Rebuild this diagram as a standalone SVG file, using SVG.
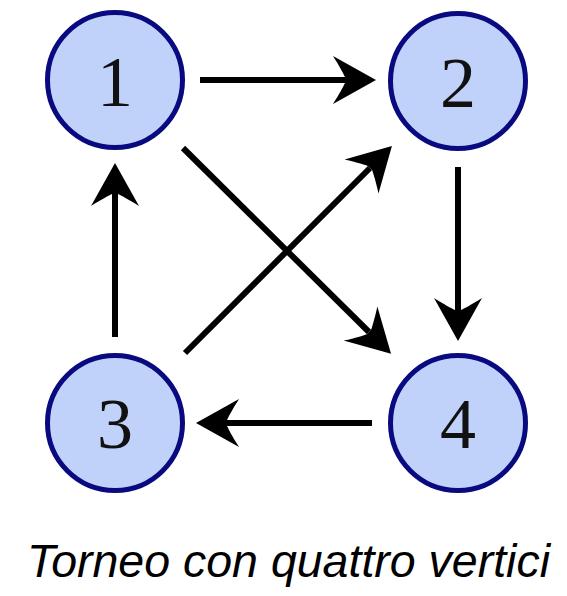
<svg xmlns="http://www.w3.org/2000/svg" width="567" height="596" viewBox="0 0 567 596">
<style>
.node circle{fill:#c0d2fa;stroke:#0a0a80;stroke-width:5}
.node text{font-family:"Liberation Serif","DejaVu Serif",serif;font-size:72px;fill:#111;text-anchor:middle}
.edge{stroke:#000;stroke-width:6;fill:none;marker-end:url(#ah)}
.cap{font-family:"Liberation Sans",Arial,sans-serif;font-style:italic;font-size:46.5px;fill:#000}
</style>
<defs>
<marker id="ah" markerUnits="userSpaceOnUse" orient="auto" refX="0" refY="0" markerWidth="80" markerHeight="80" overflow="visible">
<path d="M31,0 L-12,-24 C-5,-13 -2,-7 0,-3 L0,3 C-2,7 -5,13 -12,24 Z" fill="#000"/>
</marker>
</defs>
<rect width="567" height="596" fill="#fff"/>
<g id="connectors">
<line class="edge" x1="200" y1="80" x2="345" y2="80"/>
<line class="edge" x1="458" y1="167" x2="458" y2="310"/>
<line class="edge" x1="372" y1="423" x2="227" y2="423"/>
<line class="edge" x1="115" y1="337" x2="115" y2="194"/>
<line class="edge" x1="183" y1="148" x2="369" y2="332"/>
<line class="edge" x1="185" y1="353" x2="370" y2="168"/>
</g>
<g id="node1" class="node"><circle cx="115" cy="80" r="67.5"/><text x="115" y="106">1</text></g>
<g id="node2" class="node"><circle cx="458" cy="81" r="67.5"/><text x="458" y="107">2</text></g>
<g id="node3" class="node"><circle cx="115" cy="423" r="67.5"/><text x="115" y="448">3</text></g>
<g id="node4" class="node"><circle cx="458" cy="423" r="67.5"/><text x="458" y="448">4</text></g>
<text class="cap" x="27" y="577">Torneo con quattro vertici</text>
</svg>
